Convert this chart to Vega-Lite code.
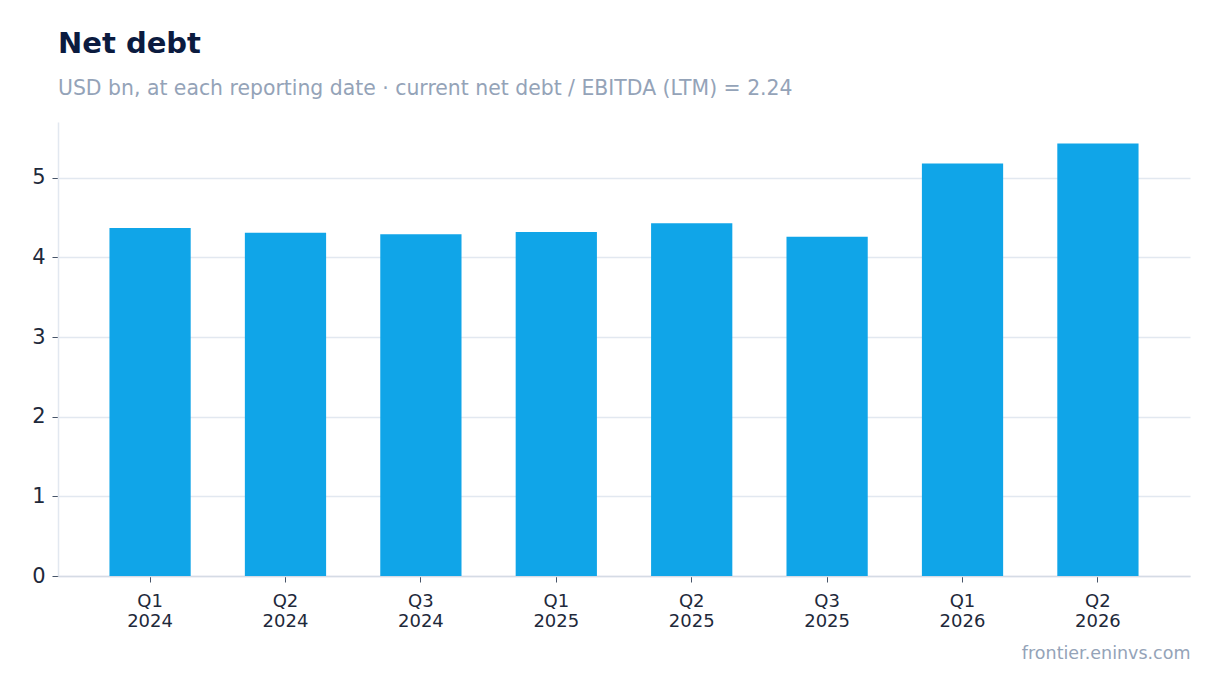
{
  "$schema": "https://vega.github.io/schema/vega-lite/v6.json",
  "width": 1220,
  "height": 693,
  "autosize": {"type": "fit", "contains": "padding"},
  "padding": {"left": 31, "right": 30, "top": 29, "bottom": 31},
  "background": "white",
  "title": {
    "text": "Net debt",
    "subtitle": "USD bn, at each reporting date · current net debt / EBITDA (LTM) = 2.24",
    "anchor": "start",
    "frame": "group",
    "font": "DejaVu Sans",
    "fontSize": 29,
    "fontWeight": "bold",
    "color": "#0b1b3f",
    "subtitleFont": "DejaVu Sans",
    "subtitleFontSize": 20.4,
    "subtitleColor": "#94a3b8",
    "subtitlePadding": 20,
    "offset": 23
  },
  "data": {
    "values": [
      {"quarter": "Q1 2024", "net_debt": 4.37},
      {"quarter": "Q2 2024", "net_debt": 4.31},
      {"quarter": "Q3 2024", "net_debt": 4.29},
      {"quarter": "Q1 2025", "net_debt": 4.32},
      {"quarter": "Q2 2025", "net_debt": 4.43},
      {"quarter": "Q3 2025", "net_debt": 4.26},
      {"quarter": "Q1 2026", "net_debt": 5.18},
      {"quarter": "Q2 2026", "net_debt": 5.43}
    ]
  },
  "mark": {"type": "bar", "color": "#10a5e8"},
  "encoding": {
    "x": {
      "field": "quarter",
      "type": "nominal",
      "sort": null,
      "scale": {"paddingInner": 0.4, "paddingOuter": 0.38},
      "axis": {
        "title": "frontier.eninvs.com",
        "titleAnchor": "end",
        "titleFont": "DejaVu Sans",
        "titleFontSize": 17.5,
        "titleFontWeight": "normal",
        "titleColor": "#94a3b8",
        "titlePadding": 14,
        "labelExpr": "split(datum.label, ' ')",
        "labelAngle": 0,
        "labelFont": "DejaVu Sans",
        "labelFontSize": 18,
        "labelLineHeight": 20.5,
        "labelColor": "#1e293b",
        "labelPadding": 10,
        "tickColor": "#475569",
        "tickSize": 6,
        "domainColor": "#d5dbe5",
        "domainWidth": 1.5,
        "grid": false
      }
    },
    "y": {
      "field": "net_debt",
      "type": "quantitative",
      "scale": {"domain": [0, 5.7], "nice": false},
      "axis": {
        "title": null,
        "values": [0, 1, 2, 3, 4, 5],
        "labelFont": "DejaVu Sans",
        "labelFontSize": 21,
        "labelColor": "#1e293b",
        "labelPadding": 7,
        "tickColor": "#475569",
        "tickSize": 6,
        "domainColor": "#e2e8f0",
        "domainWidth": 1.5,
        "gridColor": "#e2e8f0",
        "gridWidth": 1.5
      }
    },
    "tooltip": [
      {"field": "quarter", "title": "Period"},
      {"field": "net_debt", "title": "Net debt, USD bn", "format": ".2f"}
    ]
  },
  "config": {
    "view": {"stroke": null}
  }
}
